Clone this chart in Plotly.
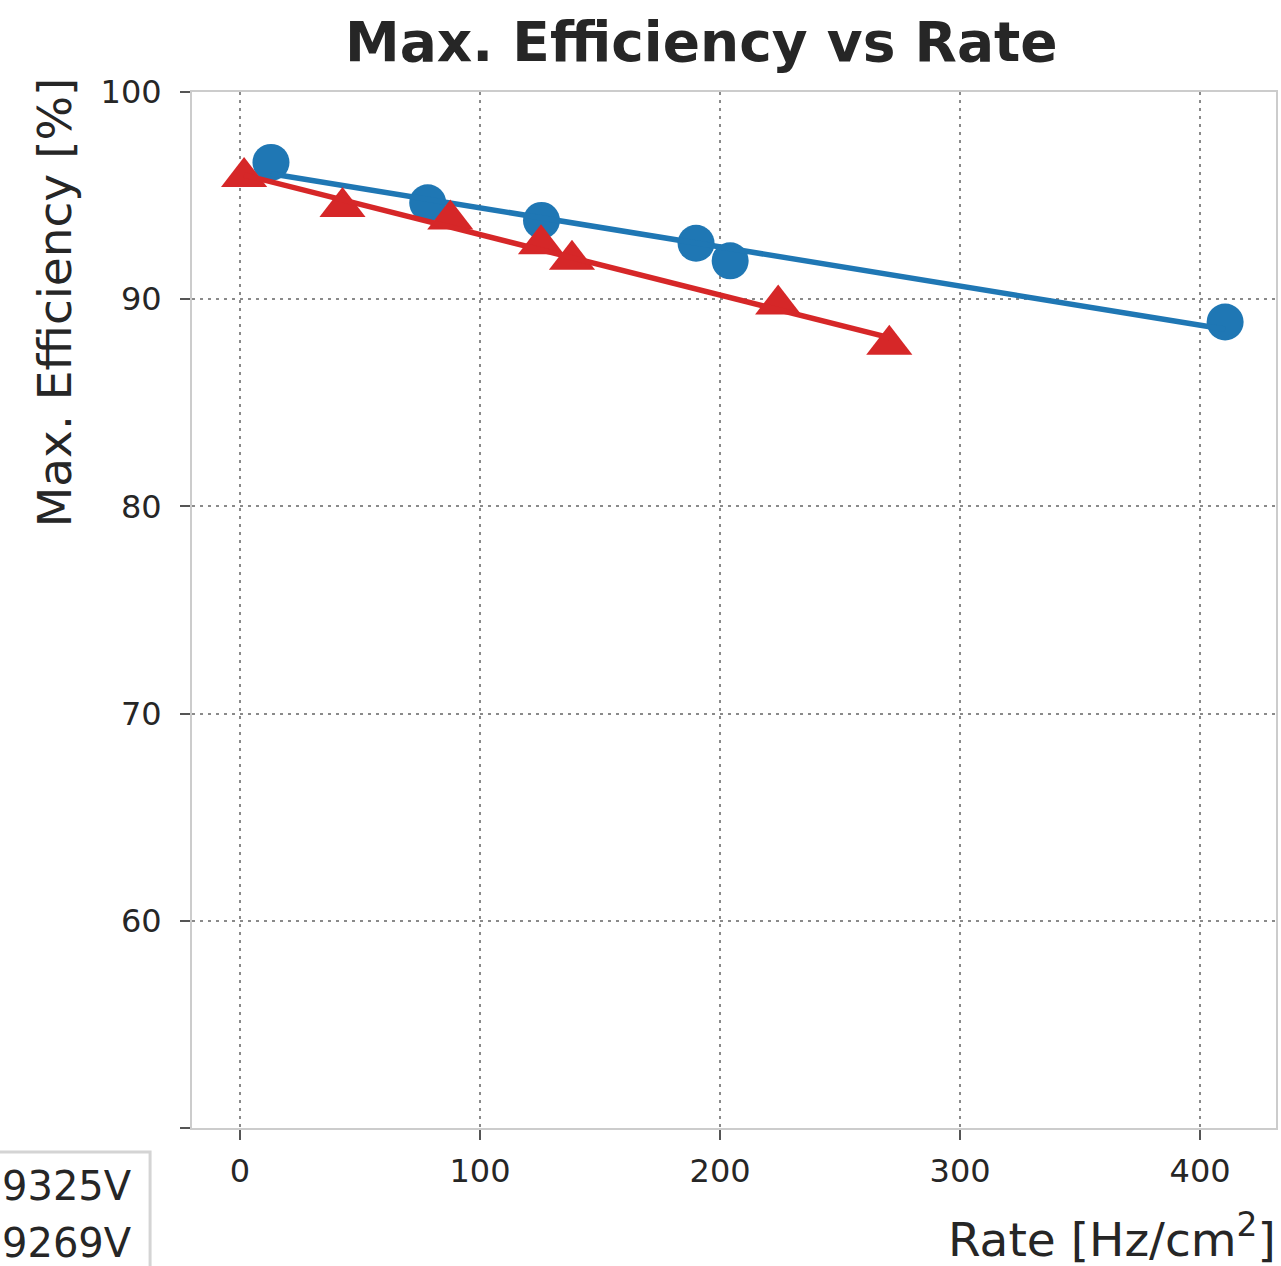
import numpy as np
import plotly.graph_objects as go

# Rate [Hz/cm^2] and maximum efficiency [%] for the two HV settings
rate_9325 = [12.9, 78.2, 125.6, 190.0, 204.2, 410.4]
eff_9325 = [96.6, 94.65, 93.8, 92.7, 91.85, 88.9]

rate_9269 = [1.7, 42.7, 87.6, 125.4, 138.3, 224.2, 270.5]
eff_9269 = [95.9, 94.45, 93.85, 92.65, 91.9, 89.75, 87.8]

legend_labels = ["9325V", "9269V"]
x_ticks = [0, 100, 200, 300, 400]
y_ticks = [60, 70, 80, 90, 100]
y_unlabelled_ticks = [50]

BLUE = "#1f77b4"
RED = "#d62728"
TEXT = "#262626"
FONT = "DejaVu Sans"

W, H = 1281, 1266
ML, MR, MT, MB = 192, 3, 92, 138


def px_x(px):
    return (px - ML) / (W - ML - MR)


def px_y(py):
    return (H - MB - py) / (H - MT - MB)


def fit_line(xs, ys):
    slope, intercept = np.polyfit(xs, ys, 1)
    xe = np.array([min(xs), max(xs)])
    return xe, slope * xe + intercept


fig = go.Figure()

fx, fy = fit_line(rate_9325, eff_9325)
fig.add_trace(go.Scatter(x=rate_9325, y=eff_9325, mode="markers",
                         marker=dict(symbol="circle", size=37, color=BLUE),
                         name=legend_labels[0], showlegend=False))
fig.add_trace(go.Scatter(x=fx, y=fy, mode="lines",
                         line=dict(color=BLUE, width=5.5), showlegend=False))

fx, fy = fit_line(rate_9269, eff_9269)
fig.add_trace(go.Scatter(x=rate_9269, y=eff_9269, mode="markers",
                         marker=dict(symbol="triangle-up", size=40, color=RED),
                         name=legend_labels[1], showlegend=False))
fig.add_trace(go.Scatter(x=fx, y=fy, mode="lines",
                         line=dict(color=RED, width=5.5), showlegend=False))

axis_common = dict(
    showline=True, mirror=True, linecolor="#cccccc", linewidth=2,
    showgrid=True, gridcolor="#8a8a8a", gridwidth=2, griddash="3px,5px",
    zeroline=False, ticks="outside", ticklen=10, tickwidth=2, tickcolor="#555555",
    tickfont=dict(family=FONT, size=32, color=TEXT),
)

fig.update_xaxes(range=[-20.0, 431.6], tickvals=x_ticks, ticklabelstandoff=4, **axis_common)
fig.update_yaxes(range=[50, 100], tickvals=y_ticks, ticklabelstandoff=12,
                 minor=dict(tickvals=y_unlabelled_ticks, ticks="outside", ticklen=10,
                            tickwidth=2, tickcolor="#555555", showgrid=False),
                 **axis_common)

# legend box in the lower left corner
fig.add_shape(type="rect", xref="paper", yref="paper",
              x0=px_x(-20), x1=px_x(150), y0=px_y(1290), y1=px_y(1152),
              line=dict(color="#d4d4d4", width=3), fillcolor="white", layer="above")

annotations = [
    dict(text="<b>Max. Efficiency vs Rate</b>", xref="paper", yref="paper",
         x=px_x(702), y=px_y(42), xanchor="center", yanchor="middle",
         showarrow=False, font=dict(family=FONT, size=55, color=TEXT)),
    dict(text="Rate [Hz/cm<sup>2</sup>]", xref="paper", yref="paper",
         x=px_x(1280), y=px_y(1236), xanchor="right", yanchor="middle",
         showarrow=False, font=dict(family=FONT, size=47, color=TEXT)),
    dict(text="Max. Efficiency [%]", xref="paper", yref="paper",
         x=px_x(54), y=px_y(302), xanchor="center", yanchor="middle", textangle=-90,
         showarrow=False, font=dict(family=FONT, size=47, color=TEXT)),
    dict(text=legend_labels[0], xref="paper", yref="paper",
         x=px_x(134), y=px_y(1186), xanchor="right", yanchor="middle",
         showarrow=False, font=dict(family=FONT, size=40, color=TEXT)),
    dict(text=legend_labels[1], xref="paper", yref="paper",
         x=px_x(134), y=px_y(1243), xanchor="right", yanchor="middle",
         showarrow=False, font=dict(family=FONT, size=40, color=TEXT)),
]

fig.update_layout(
    width=W, height=H,
    margin=dict(l=ML, r=MR, t=MT, b=MB, pad=0),
    paper_bgcolor="white", plot_bgcolor="white",
    showlegend=False,
    annotations=annotations,
)

fig.write_html("out.html")
